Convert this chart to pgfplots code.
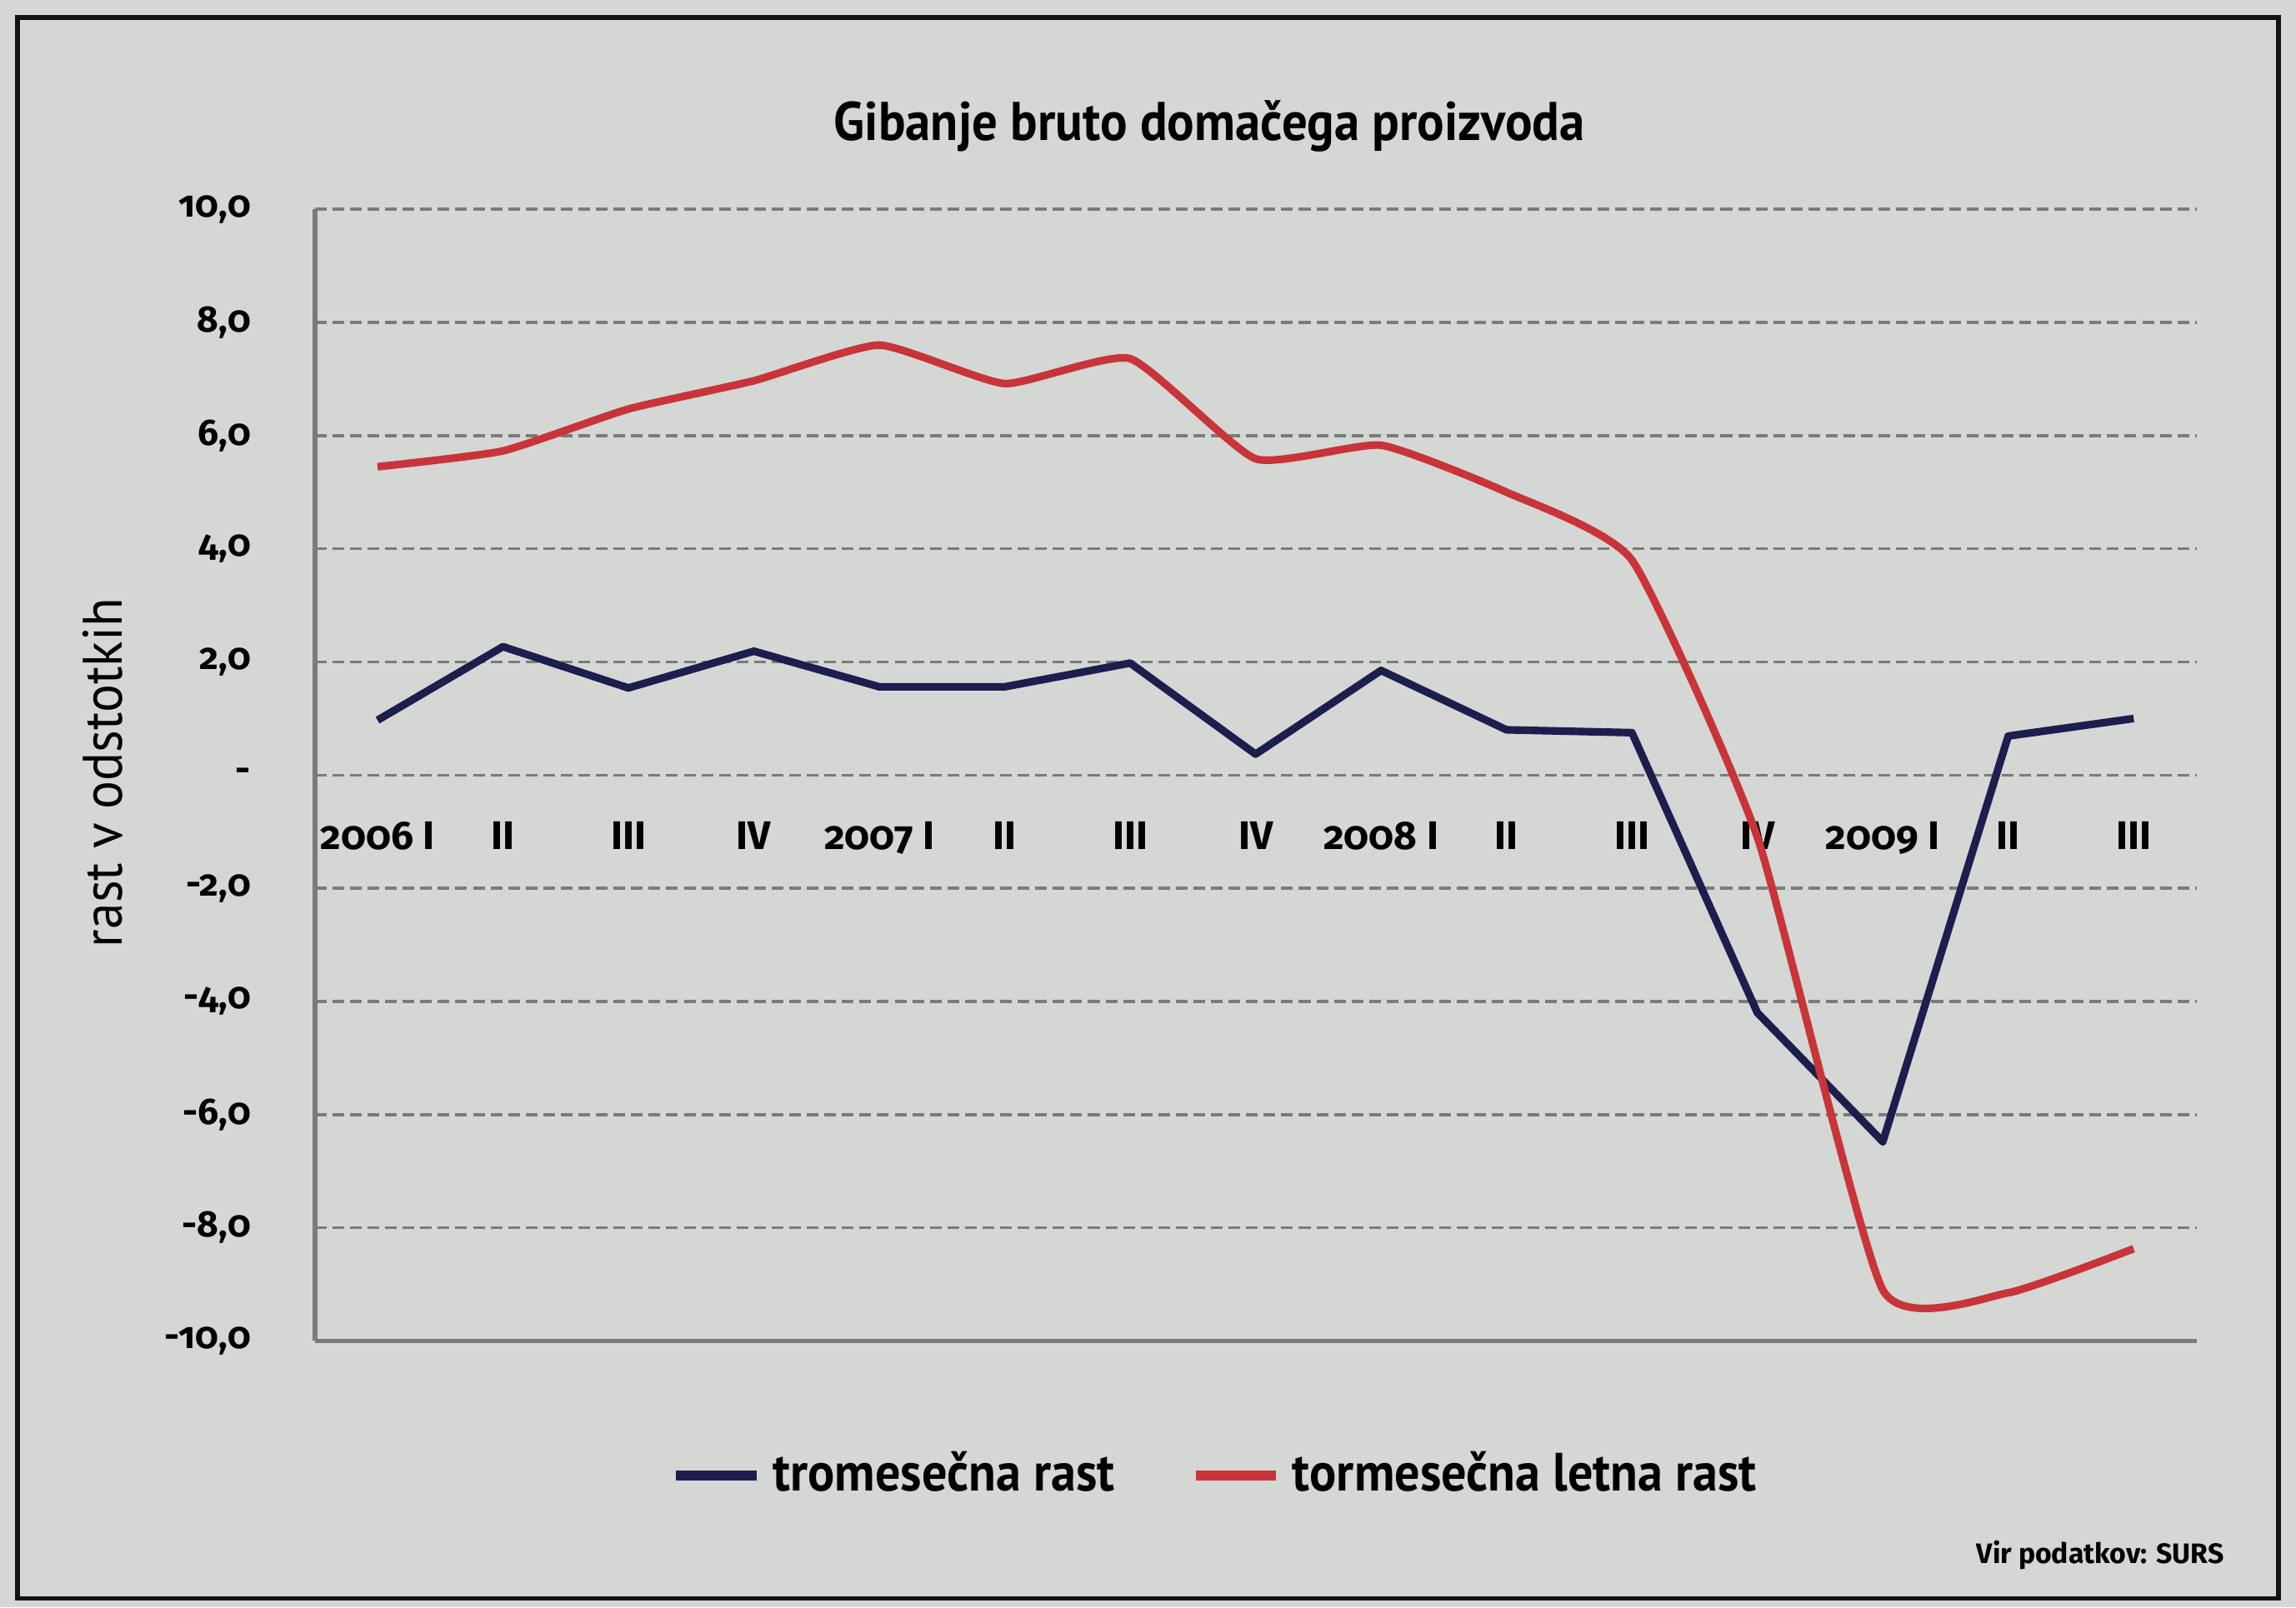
\documentclass[border=0pt]{standalone}
\usepackage{fontspec}
\setmainfont{PT Sans}
\newfontfamily\legfont{PT Sans}[FakeStretch=0.93]
\newfontfamily\ylabfont{PT Sans}[FakeStretch=0.95]
\newfontfamily\tickfont{Fira Sans}[Numbers=OldStyle]
\usepackage{pgfplots}
\pgfplotsset{compat=1.18}
\definecolor{bg}{RGB}{212,215,212}
\definecolor{frm}{RGB}{20,20,20}
\definecolor{gridc}{RGB}{120,125,122}
\definecolor{bluel}{RGB}{28,30,78}
\definecolor{redl}{RGB}{200,52,58}
\begin{document}
\begin{tikzpicture}
\fill[bg] (-53.75pt,-45.5pt) rectangle (338.25pt,229pt);
\draw[frm, line width=0.8pt] (-50.75pt,-44pt) rectangle (335.25pt,226pt);
\begin{axis}[
  at={(0pt,0pt)}, anchor=south west,
  scale only axis, width=321.25pt, height=193.25pt,
  xmin=-0.5, xmax=14.5, ymin=-10, ymax=10,
  axis x line*=middle, axis y line*=left,
  x axis line style={draw=none},
  y axis line style={draw=gridc, line width=0.9pt},
  major tick length=0pt,
  xtick={0,...,14},
  xticklabels={2006 I,II,III,IV,2007 I,II,III,IV,2008 I,II,III,IV,2009 I,II,III},
  ytick={-10,-8,-6,-4,-2,0,2,4,6,8,10},
  yticklabels={{-10,0},{-8,0},{-6,0},{-4,0},{-2,0},-,{2,0},{4,0},{6,0},{8,0},{10,0}},
  xticklabel style={font=\tickfont\bfseries\fontsize{6.8}{8}\selectfont, yshift=-4.5pt},
  yticklabel style={font=\tickfont\bfseries\fontsize{6.3}{8}\selectfont, xshift=-7.4pt},
  /pgf/number format/assume math mode=true,
  ymajorgrids,
  major grid style={gridc, line width=0.5pt, dash pattern=on 2pt off 1pt},
  title={Gibanje bruto domačega proizvoda},
  title style={at={(axis description cs:0.4755,1)}, anchor=base, yshift=5.75pt,
    font=\legfont\bfseries\fontsize{9.3}{11}\selectfont},
  ylabel={rast v odstotkih},
  every axis y label/.style={at={(axis description cs:-0.1128,0.502)}, rotate=90, anchor=center,
    font=\ylabfont\fontsize{9.5}{11}\selectfont},
  legend style={at={(axis description cs:0.481,-0.119)}, anchor=center, draw=none, fill=none,
    legend columns=2, font=\legfont\bfseries\fontsize{9.2}{11}\selectfont,
    /tikz/every even column/.append style={column sep=11pt}},
  legend image code/.code={\draw[#1, line width=1.6pt] (0pt,0pt) -- (13.75pt,0pt);},
  clip=false,
]
\addplot[bluel, line width=1.3pt, line join=round] coordinates {
 (0,0.97) (1,2.27) (2,1.54) (3,2.19) (4,1.56) (5,1.56) (6,1.98) (7,0.37)
 (8,1.85) (9,0.80) (10,0.75) (11,-4.2) (12,-6.48) (13,0.69) (14,1.0)
};
\addlegendentry{tromesečna rast}
\addplot[redl, line width=1.3pt, smooth, tension=0.3] coordinates {
 (0,5.45) (1,5.73) (2,6.47) (3,6.97) (4,7.6) (5,6.92) (6,7.36) (7,5.59)
 (8,5.83) (9,5.0) (10,3.8) (11,-1.1) (12,-9.1) (13,-9.15) (14,-8.37)
};
\addlegendentry{tormesečna letna rast}
\draw[gridc, line width=0.7pt] (rel axis cs:0,0) -- (rel axis cs:1,0);
\node[anchor=east, font=\tickfont\bfseries\fontsize{4.8}{6}\selectfont] at (axis description cs:1.0257,-0.189) {Vir podatkov: SURS};
\end{axis}
\end{tikzpicture}
\end{document}
